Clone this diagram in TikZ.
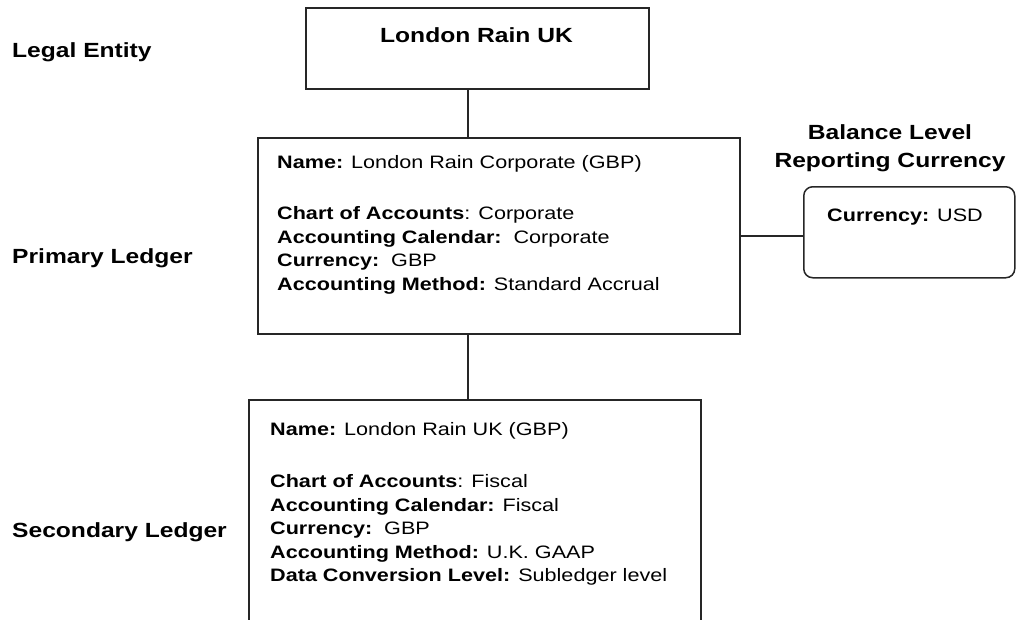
\documentclass[tikz,border=0pt]{standalone}
\usepackage{fontspec}
\newfontfamily\lblfont[FakeStretch=1.2]{Liberation Sans}
\newfontfamily\bodyfont[FakeStretch=1.2]{Liberation Sans}
\begin{document}
\begin{tikzpicture}[x=1pt,y=-1pt,
  frame/.style={draw=black!85, line width=1.5pt, inner sep=0pt, anchor=north west},
  link/.style={draw=black!85, line width=1.5pt},
  lbl/.style={font=\lblfont\bfseries\fontsize{20.5}{24}\selectfont, inner sep=0pt},
  body/.style={font=\bodyfont\fontsize{18}{22}\selectfont, inner sep=0pt, anchor=base west},
]
\useasboundingbox (0,0) rectangle (1016,619);
\clip (0,0) rectangle (1016,619);

% boxes
\node[frame, minimum width=343pt, minimum height=81pt] (le) at (305,7) {};
\node[frame, minimum width=482pt, minimum height=196pt] (pl) at (257,137) {};
\node[frame, rounded corners=9pt, minimum width=211pt, minimum height=91pt] (rc) at (803,186) {};
\node[frame, minimum width=452pt, minimum height=260pt] (sl) at (248,399) {};

% connectors
\coordinate (cx) at (468,0);
\draw[link] (le.south -| cx) -- (pl.north -| cx);
\draw[link] (pl.south -| cx) -- (sl.north -| cx);
\draw[link] (pl.east) -- (pl.east -| rc.west);

% level labels
\node[lbl, anchor=base west] (lab1) at (12,57) {Legal Entity};
\node[lbl, anchor=base west] (lab2) at (12,263) {Primary Ledger};
\node[lbl, anchor=base west] (lab3) at (12,537) {Secondary Ledger};
\node[lbl, anchor=base] (bl1) at (890,139) {Balance Level};
\node[lbl, anchor=base] (bl2) at (890,167) {Reporting Currency};

% legal entity
\node[lbl, anchor=base] (letxt) at (476.5,42) {London Rain UK};

% primary ledger
\node[body] (p1) at (277,168.5) {\textbf{Name:} London Rain Corporate (GBP)};
\node[body] (p2) at (277,219.5) {\textbf{Chart of Accounts}: Corporate};
\node[body] (p3) at (277,243) {\textbf{Accounting Calendar:}\ \ Corporate};
\node[body] (p4) at (277,266.5) {\textbf{Currency:}\ \ GBP};
\node[body] (p5) at (277,290) {\textbf{Accounting Method:} Standard Accrual};

% reporting currency
\node[body] (r1) at (827,221.5) {\textbf{Currency:} USD};

% secondary ledger
\node[body] (s1) at (270,435.5) {\textbf{Name:} London Rain UK (GBP)};
\node[body] (s2) at (270,487.5) {\textbf{Chart of Accounts}: Fiscal};
\node[body] (s3) at (270,511) {\textbf{Accounting Calendar:} Fiscal};
\node[body] (s4) at (270,534.5) {\textbf{Currency:}\ \ GBP};
\node[body] (s5) at (270,558) {\textbf{Accounting Method:} U.K. GAAP};
\node[body] (s6) at (270,581.5) {\textbf{Data Conversion Level:} Subledger level};
\end{tikzpicture}
\end{document}
